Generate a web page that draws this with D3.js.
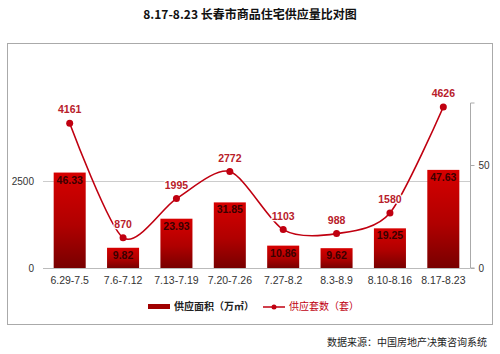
<!DOCTYPE html>
<html>
<head>
<meta charset="utf-8">
<script src="https://cdn.jsdelivr.net/npm/d3@7"></script>
<style>
  body { margin: 0; background: #fff; }
  svg { display: block; font-family: "Noto Sans CJK SC", "Liberation Sans", sans-serif; }
</style>
</head>
<body>
<svg id="chart" width="500" height="354"></svg>
<script>
// weekly supply, Changchun residential
const weeks = ['6.29-7.5', '7.6-7.12', '7.13-7.19', '7.20-7.26', '7.27-8.2', '8.3-8.9', '8.10-8.16', '8.17-8.23'];
const areaValues = [46.33, 9.82, 23.93, 31.85, 10.86, 9.62, 19.25, 47.63];   // 万㎡
const unitValues = [4161, 870, 1995, 2772, 1103, 988, 1580, 4626];            // 套
const leftTicks = [0, 2500];
const rightTicks = [0, 50];

const svg = d3.select('#chart');

// outer frame
svg.append('rect')
   .attr('x', 7.5).attr('y', 43.5)
   .attr('width', 485).attr('height', 281)
   .attr('fill', '#fff')
   .attr('stroke', '#aaa');

// title
svg.append('text')
   .attr('x', 250).attr('y', 19)
   .attr('text-anchor', 'middle')
   .attr('font-size', '12px')
   .attr('font-weight', 'bold')
   .attr('fill', '#111')
   .text('8.17-8.23 长春市商品住宅供应量比对图');

const plot = { left: 43, right: 470, top: 103, bottom: 268 };

const x = d3.scaleBand().domain(weeks).range([plot.left, plot.right]).paddingInner(0.4).paddingOuter(0.2);
const yLeft = d3.scaleLinear().domain([0, 2500]).range([plot.bottom, plot.bottom - 87]);
const yRight = d3.scaleLinear().domain([0, 50]).range([plot.bottom, plot.bottom - 103]);

// bar gradient
const defs = svg.append('defs');
const grad = defs.append('linearGradient')
   .attr('id', 'barGrad')
   .attr('x1', 0).attr('y1', 0).attr('x2', 0).attr('y2', 1);
grad.append('stop').attr('offset', '0%').attr('stop-color', '#d60000');
grad.append('stop').attr('offset', '55%').attr('stop-color', '#b00000');
grad.append('stop').attr('offset', '100%').attr('stop-color', '#780000');

// gridline at 2500
svg.append('g')
   .selectAll('line')
   .data(leftTicks.filter(d => d > 0))
   .join('line')
   .attr('x1', plot.left).attr('x2', plot.right)
   .attr('y1', d => yLeft(d) + 0.5).attr('y2', d => yLeft(d) + 0.5)
   .attr('stroke', '#ccc');

// left axis labels
svg.append('g')
   .selectAll('text')
   .data(leftTicks)
   .join('text')
   .attr('x', 34)
   .attr('y', d => yLeft(d) + 4)
   .attr('text-anchor', 'end')
   .attr('font-size', '10px')
   .attr('font-family', 'Liberation Sans, Arial, sans-serif')
   .attr('fill', '#333')
   .text(d => d);

// right axis
const rightAxis = svg.append('g')
   .attr('transform', `translate(${plot.right + 0.5},0)`)
   .call(d3.axisRight(yRight).tickValues(rightTicks).tickSize(4).tickPadding(4));
rightAxis.select('.domain').attr('stroke', '#aaa').attr('d', `M4,${plot.top}H0V${plot.bottom}H4`);
rightAxis.selectAll('.tick line').attr('stroke', '#aaa');
rightAxis.selectAll('.tick text')
   .attr('font-size', '10px')
   .attr('font-family', 'Liberation Sans, Arial, sans-serif')
   .attr('fill', '#333');

// bars
svg.append('g')
   .selectAll('rect')
   .data(areaValues)
   .join('rect')
   .attr('x', (d, i) => x(weeks[i]))
   .attr('y', d => yRight(d))
   .attr('width', x.bandwidth())
   .attr('height', d => plot.bottom - yRight(d))
   .attr('fill', 'url(#barGrad)');

// baseline
svg.append('line')
   .attr('x1', plot.left).attr('x2', plot.right)
   .attr('y1', plot.bottom + 0.5).attr('y2', plot.bottom + 0.5)
   .attr('stroke', '#bbb');

// bar labels
svg.append('g')
   .selectAll('text')
   .data(areaValues)
   .join('text')
   .attr('x', (d, i) => x(weeks[i]) + x.bandwidth() / 2)
   .attr('y', d => yRight(d) + 11)
   .attr('text-anchor', 'middle')
   .attr('font-size', '10.5px')
   .attr('font-weight', 'bold')
   .attr('font-family', 'Liberation Sans, Arial, sans-serif')
   .attr('fill', '#3a0000')
   .text(d => d.toFixed(2));

// line
const cx = (d, i) => x(weeks[i]) + x.bandwidth() / 2;
const line = d3.line()
   .x(cx)
   .y(d => yLeft(d))
   .curve(d3.curveCardinal.tension(0.2));

svg.append('path')
   .datum(unitValues)
   .attr('d', line)
   .attr('fill', 'none')
   .attr('stroke', '#c00010')
   .attr('stroke-width', 1.6);

svg.append('g')
   .selectAll('circle')
   .data(unitValues)
   .join('circle')
   .attr('cx', cx)
   .attr('cy', d => yLeft(d))
   .attr('r', 3.5)
   .attr('fill', '#c00010');

// point labels, white halo keeps the curve from running through them
svg.append('g')
   .selectAll('text')
   .data(unitValues)
   .join('text')
   .attr('x', cx)
   .attr('y', d => yLeft(d) - 10)
   .attr('text-anchor', 'middle')
   .attr('font-size', '10.5px')
   .attr('font-weight', 'bold')
   .attr('font-family', 'Liberation Sans, Arial, sans-serif')
   .attr('fill', '#b8202a')
   .attr('stroke', '#fff')
   .attr('stroke-width', 2.5)
   .attr('paint-order', 'stroke')
   .text(d => d);

// x labels
svg.append('g')
   .selectAll('text')
   .data(weeks)
   .join('text')
   .attr('x', d => x(d) + x.bandwidth() / 2)
   .attr('y', 284)
   .attr('text-anchor', 'middle')
   .attr('font-size', '10.5px')
   .attr('font-family', 'Liberation Sans, Arial, sans-serif')
   .attr('fill', '#333')
   .text(d => d);

// legend
const legend = svg.append('g').attr('transform', 'translate(0,307)');
legend.append('rect')
   .attr('x', 148).attr('y', -3)
   .attr('width', 22).attr('height', 5)
   .attr('fill', '#a00000');
legend.append('text')
   .attr('x', 174).attr('y', 0)
   .attr('dominant-baseline', 'middle')
   .attr('font-size', '10px')
   .attr('font-weight', 'bold')
   .attr('fill', '#222')
   .text('供应面积（万㎡）');
legend.append('line')
   .attr('x1', 263).attr('x2', 285)
   .attr('y1', 0).attr('y2', 0)
   .attr('stroke', '#c00010')
   .attr('stroke-width', 1.5);
legend.append('circle')
   .attr('cx', 274).attr('cy', 0).attr('r', 2.5)
   .attr('fill', '#c00010');
legend.append('text')
   .attr('x', 289).attr('y', 0)
   .attr('dominant-baseline', 'middle')
   .attr('font-size', '10px')
   .attr('fill', '#c00010')
   .text('供应套数（套）');

// source
svg.append('text')
   .attr('x', 487).attr('y', 346)
   .attr('text-anchor', 'end')
   .attr('font-size', '10px')
   .attr('fill', '#222')
   .text('数据来源：中国房地产决策咨询系统');
</script>
</body>
</html>
